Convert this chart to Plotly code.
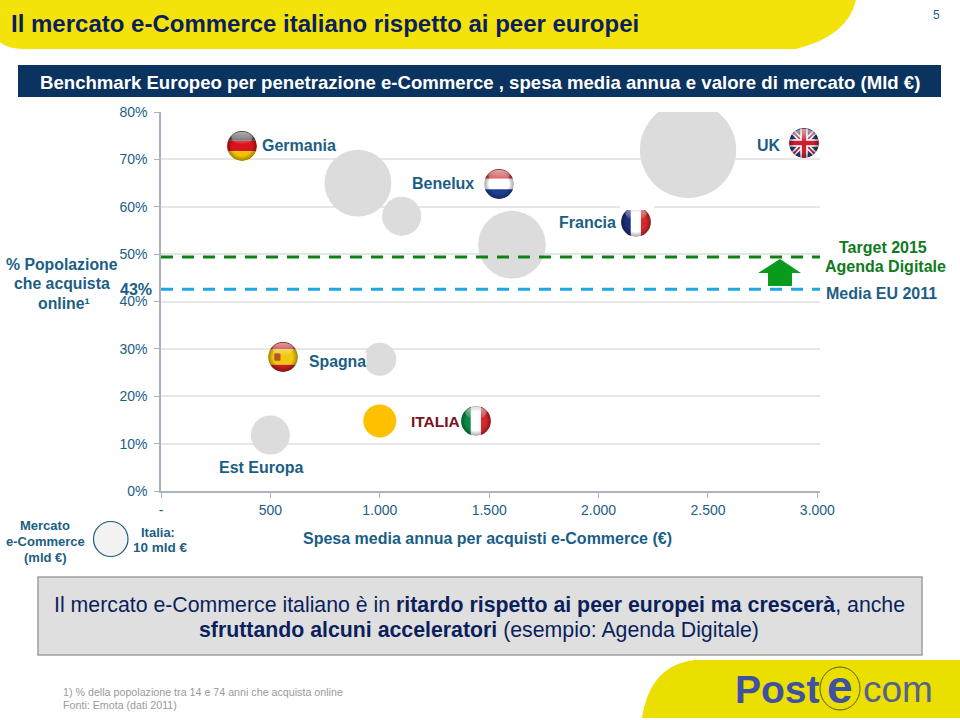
import base64
import plotly.graph_objects as go

# ---- data ----
countries = ["Germania", "Benelux", "Francia", "UK", "Spagna", "Italia", "Est Europa"]
spend_eur = [900, 1100, 1604, 2409, 1000, 1000, 500]
online_pct = [65, 58, 52, 72, 27.8, 14.8, 11.8]
market_bn = [41, 14, 42, 85, 10, 10, 14]
y_ticks = [0, 10, 20, 30, 40, 50, 60, 70, 80]
y_tick_labels = ["0%", "10%", "20%", "30%", "40%", "50%", "60%", "70%", "80%"]
x_ticks = [0, 500, 1000, 1500, 2000, 2500, 3000]
x_tick_labels = ["-", "500", "1.000", "1.500", "2.000", "2.500", "3.000"]
target_2015_pct = 49.4
media_eu_pct = 42.6
x_end = 3012

BLUE = "#1B5E85"
NAVY = "#0B1F5C"
FONT = "Liberation Sans"
W, H = 960, 720


def px(x):
    return x / W


def py(y):
    return 1 - y / H


def P(pts):
    return "M" + " L".join(f"{px(a):.5f},{py(b):.5f}" for a, b in pts) + " Z"


def note(x, y, s, size, color=BLUE, anchor="center", bold=False, bg=None):
    d = dict(x=px(x), y=py(y), xref="paper", yref="paper", showarrow=False,
             text=f"<b>{s}</b>" if bold else s, xanchor=anchor, yanchor="middle",
             font=dict(family=FONT, size=size, color=color), borderpad=0)
    if bg:
        d["bgcolor"] = bg
    return d


fig = go.Figure()

colors = ["#FFC000" if c == "Italia" else "#DCDCDC" for c in countries]
fig.add_trace(go.Scatter(
    x=spend_eur, y=online_pct, mode="markers", text=countries, showlegend=False,
    marker=dict(size=market_bn, sizemode="area", sizeref=2 * 10 / 33 ** 2, color=colors,
                opacity=1, line=dict(width=0)),
))
for val, col in [(target_2015_pct, "#0B8212"), (media_eu_pct, "#1EA7E1")]:
    fig.add_trace(go.Scatter(x=[0, x_end], y=[val, val], mode="lines", showlegend=False,
                             line=dict(color=col, width=3, dash="12px,9px")))

# ---- decorative shapes ----
shapes = []
# header swoosh
shapes.append(dict(type="path", xref="paper", yref="paper", layer="below", line_width=0,
                   fillcolor="#F4E30B",
                   path=f"M{px(0)},{py(0)} L{px(856)},{py(0)} Q{px(848)},{py(36)} {px(796)},{py(49)} "
                        f"L{px(22)},{py(49)} Q{px(6)},{py(48)} {px(0)},{py(42)} Z"))
# title bar
shapes.append(dict(type="rect", xref="paper", yref="paper", layer="below", line_width=0,
                   fillcolor="#0B3360", x0=px(18), x1=px(941), y0=py(97), y1=py(65)))
# footer swoosh
shapes.append(dict(type="path", xref="paper", yref="paper", layer="below", line_width=0,
                   fillcolor="#EBDF00",
                   path=f"M{px(642)},{py(718)} Q{px(650)},{py(665)} {px(695)},{py(660)} "
                        f"L{px(960)},{py(660)} L{px(960)},{py(718)} Z"))
# message box
shapes.append(dict(type="rect", xref="paper", yref="paper", layer="below",
                   fillcolor="#DFDFDF", line=dict(color="#9E9E9E", width=1.5),
                   x0=px(38), x1=px(922), y0=py(655), y1=py(577)))
# bubble legend
shapes.append(dict(type="circle", xref="paper", yref="paper", fillcolor="#F2F2F2",
                   line=dict(color="#1F5C7F", width=1.2),
                   x0=px(93.5), x1=px(128), y0=py(556.5), y1=py(521.5)))
# arrow
shapes.append(dict(type="path", xref="paper", yref="paper", line_width=0, fillcolor="#0A9A1C",
                   path=P([(780, 259), (801, 273), (792, 273), (792, 286), (768, 286), (768, 273), (758, 273)])))
# logo ring
shapes.append(dict(type="circle", xref="paper", yref="paper", fillcolor="rgba(0,0,0,0)",
                   line=dict(color="#5A5A20", width=1),
                   x0=px(820), x1=px(860), y0=py(710), y1=py(667)))

# ---- flags ----
def flag(body):
    svg = f"""<svg xmlns='http://www.w3.org/2000/svg' width='100' height='100' viewBox='0 0 100 100'>
<defs><clipPath id='c'><circle cx='50' cy='50' r='48'/></clipPath>
<radialGradient id='s' cx='50%' cy='50%' r='50%'><stop offset='65%' stop-color='#000' stop-opacity='0'/>
<stop offset='100%' stop-color='#000' stop-opacity='.35'/></radialGradient>
<linearGradient id='g' x1='0' y1='0' x2='0' y2='1'><stop offset='0' stop-color='#fff' stop-opacity='.6'/>
<stop offset='1' stop-color='#fff' stop-opacity='.05'/></linearGradient></defs>
<g clip-path='url(#c)'>{body}<circle cx='50' cy='50' r='48' fill='url(#s)'/>
<ellipse cx='50' cy='24' rx='34' ry='20' fill='url(#g)'/></g></svg>"""
    return "data:image/svg+xml;base64," + base64.b64encode(svg.encode()).decode()


def bands_h(a, b, c, t=33, m=34):
    return (f"<rect width='100' height='{t}' fill='{a}'/><rect y='{t}' width='100' height='{m}' fill='{b}'/>"
            f"<rect y='{t + m}' width='100' height='{100 - t - m}' fill='{c}'/>")


def bands_v(a, b, c):
    return (f"<rect width='34' height='100' fill='{a}'/><rect x='33' width='34' height='100' fill='{b}'/>"
            f"<rect x='66' width='34' height='100' fill='{c}'/>")


uk = ("<rect width='100' height='100' fill='#2A3A7E'/>"
      "<path d='M0 0L100 100M100 0L0 100' stroke='#fff' stroke-width='16'/>"
      "<path d='M0 0L100 100M100 0L0 100' stroke='#C8202F' stroke-width='6'/>"
      "<path d='M50 0V100M0 50H100' stroke='#fff' stroke-width='24'/>"
      "<path d='M50 0V100M0 50H100' stroke='#C8202F' stroke-width='14'/>")
spain = bands_h("#C8201C", "#F2C80F", "#C8201C", 25, 50) + \
    "<rect x='22' y='38' width='20' height='24' rx='4' fill='#B5542A'/>"
flags = [
    (242, 146, bands_h("#555555", "#D8131B", "#F5C400")),
    (804, 143, uk),
    (499, 184, bands_h("#D33A3A", "#FFFFFF", "#1F3F94")),
    (636, 222, bands_v("#1B2F7A", "#FFFFFF", "#D52B2B")),
    (283, 357, spain),
    (476, 421, bands_v("#0E8A48", "#FFFFFF", "#D4282E")),
]
images = [dict(source=flag(b), xref="paper", yref="paper", x=px(cx), y=py(cy),
               sizex=31 / W, sizey=31 / H, xanchor="center", yanchor="middle",
               sizing="stretch", layer="above") for cx, cy, b in flags]

# white patch that interrupts the 60% gridline beside the French flag
shapes.append(dict(type="rect", xref="paper", yref="paper", line_width=0, fillcolor="#FFFFFF",
                   x0=px(620), x1=px(654), y0=py(210), y1=py(204)))

# ---- texts ----
ann = [
    note(10, 23, "Il mercato e-Commerce italiano rispetto ai peer europei", 24, NAVY, "left", True),
    note(936, 15, "5", 12, BLUE),
    note(480, 82, "Benchmark Europeo per penetrazione e-Commerce , spesa media annua e valore di mercato (Mld €)",
         18.6, "#FFFFFF", bold=True),
    note(62, 264, "% Popolazione", 15.8, bold=True),
    note(62, 284, "che acquista", 15.8, bold=True),
    note(64, 303, "online¹", 15.8, bold=True),
    note(136, 289, "43%", 16, bold=True),
    note(261, 146, "Germania", 16, anchor="left", bold=True),
    note(756, 146, "UK", 16, anchor="left", bold=True),
    note(411, 183, "Benelux", 16, anchor="left", bold=True),
    note(558, 222, "Francia", 16, anchor="left", bold=True),
    note(308, 361, "Spagna", 15.8, anchor="left", bold=True, bg="#FFFFFF"),
    note(410, 421, "ITALIA", 15.5, "#7A1020", "left", True),
    note(218, 467, "Est Europa", 16, anchor="left", bold=True),
    note(883, 247, "Target 2015", 16, "#0E7A20", bold=True),
    note(885, 266, "Agenda Digitale", 16, "#0E7A20", bold=True),
    note(825, 293, "Media EU 2011", 16, anchor="left", bold=True),
    note(45, 525, "Mercato", 13, bold=True),
    note(45, 541, "e-Commerce", 13, bold=True),
    note(45, 557, "(mld €)", 13, bold=True),
    note(158, 532, "Italia:", 13, bold=True),
    note(160, 547, "10 mld €", 13.5, bold=True),
    note(487, 538, "Spesa media annua per acquisti e-Commerce (€)", 16, bold=True),
    note(479, 605, "Il mercato e-Commerce italiano è in <b>ritardo rispetto ai peer europei ma crescerà</b>, anche", 21.3, NAVY),
    note(479, 630, "<b>sfruttando alcuni acceleratori</b> (esempio: Agenda Digitale)", 21.3, NAVY),
    note(62, 692, "1) % della popolazione tra 14 e 74 anni che acquista online", 10.7, "#9A9A9A", "left"),
    note(62, 705, "Fonti: Emota (dati 2011)", 10.7, "#9A9A9A", "left"),
    note(734, 689, "Post", 39, "#3F51A0", "left", True),
    note(840, 687, "e", 46, "#3F51A0", bold=True),
    note(862, 689, "com", 37, "#55628F", "left"),
]

fig.update_layout(
    width=W, height=H, margin=dict(l=0, r=0, t=0, b=0, pad=0, autoexpand=False),
    paper_bgcolor="#FFFFFF", plot_bgcolor="#FFFFFF", showlegend=False,
    font=dict(family=FONT, color=BLUE),
    xaxis=dict(domain=[161 / W, 820 / W], range=[0, x_end], tickmode="array", tickvals=x_ticks,
               ticktext=x_tick_labels, showgrid=False, zeroline=False, showline=True,
               linecolor="#A9B2BF", linewidth=1.5, ticks="outside", ticklen=5, tickcolor="#A9B2BF",
               tickfont=dict(family=FONT, size=14, color=BLUE)),
    yaxis=dict(domain=[1 - 491 / H, 1 - 112 / H], range=[0, 80], tickmode="array", tickvals=y_ticks,
               ticktext=y_tick_labels, showgrid=True, gridcolor="#E6E6E6", gridwidth=1.5, zeroline=False,
               showline=True, linecolor="#A9B2BF", linewidth=1.5, ticks="outside", ticklen=5,
               tickcolor="#A9B2BF", ticklabelstandoff=4,
               tickfont=dict(family=FONT, size=14, color=BLUE)),
    shapes=shapes, annotations=ann, images=images,
)

fig.write_html("out.html", config=dict(displayModeBar=False),
               post_script="document.body.style.margin='0';")
